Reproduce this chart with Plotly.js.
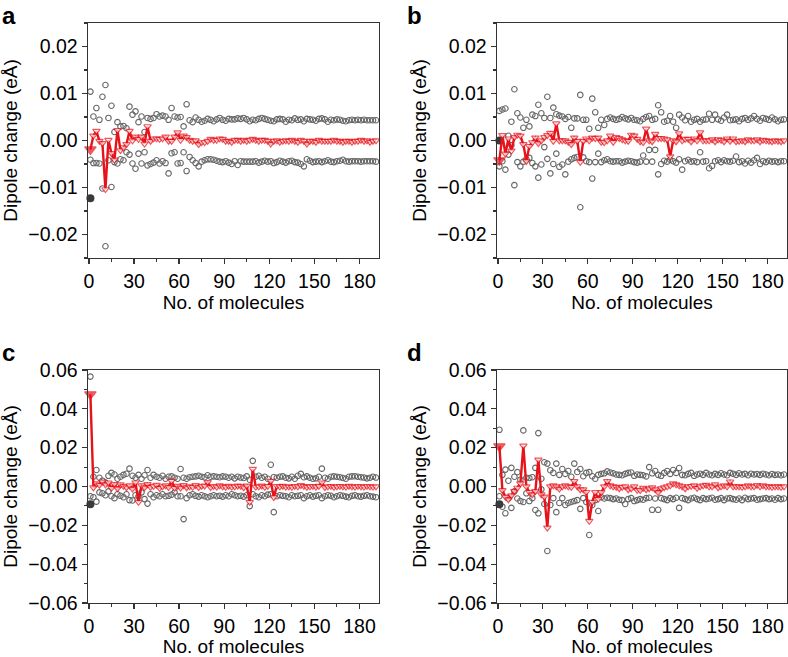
<!DOCTYPE html>
<html>
<head>
<meta charset="utf-8">
<script src="https://cdn.plot.ly/plotly-3.0.1.min.js"></script>
<style>html,body{margin:0;padding:0;background:#fff;}#chart{width:788px;height:657px;}</style>
</head>
<body>
<div id="chart"></div>
<script>
const molecules = [1,3,5,7,9,11,13,15,17,19,21,23,25,27,29,31,33,35,37,39,41,43,45,47,49,51,53,55,57,59,61,63,65,67,69,71,73,75,77,79,81,83,85,87,89,91,93,95,97,99,101,103,105,107,109,111,113,115,117,119,121,123,125,127,129,131,133,135,137,139,141,143,145,147,149,151,153,155,157,159,161,163,165,167,169,171,173,175,177,179,181,183,185,187,189,191];
const panelLabels = ["a","b","c","d"];
const xTitle = "No. of molecules";
const yTitle = "Dipole change (eÅ)";
const firstMolecule = [1];

// Panel a
const meanA = [-0.0019,0.0010,0.0020,-0.0001,-0.0006,-0.0104,0.0001,-0.0027,-0.0041,0.0022,
-0.0021,-0.0015,-0.0008,0.0020,0.0000,0.0008,0.0003,0.0008,-0.0007,0.0030,
-0.0001,0.0004,0.0004,0.0003,0.0004,0.0008,-0.0001,-0.0001,0.0008,0.0017,
0.0001,0.0010,0.0007,0.0001,-0.0001,0.0000,-0.0008,-0.0004,-0.0004,-0.0001,
0.0003,0.0001,0.0001,0.0004,0.0003,-0.0001,-0.0001,-0.0003,0.0001,0.0001,
-0.0001,0.0001,-0.0001,0.0001,0.0003,0.0001,-0.0001,0.0001,0.0001,-0.0001,
-0.0007,-0.0001,0.0000,-0.0003,-0.0001,0.0000,-0.0001,0.0001,-0.0001,-0.0003,
0.0001,-0.0001,-0.0007,-0.0001,-0.0001,-0.0003,0.0001,-0.0001,-0.0001,-0.0001,
-0.0001,0.0001,-0.0001,-0.0001,-0.0003,-0.0001,-0.0001,-0.0003,-0.0001,-0.0001,
0.0001,-0.0001,0.0000,-0.0003,-0.0001,0.0000];
const upperA = [0.0104,0.0051,0.0069,0.0044,0.0093,0.0118,0.0048,0.0074,0.0018,0.0039,
0.0030,0.0031,0.0026,0.0072,0.0055,0.0062,0.0039,0.0051,0.0018,0.0048,
0.0046,0.0048,0.0056,0.0051,0.0053,0.0051,0.0044,0.0069,0.0051,0.0049,
0.0050,0.0030,0.0077,0.0043,0.0039,0.0049,0.0044,0.0040,0.0042,0.0046,
0.0044,0.0041,0.0045,0.0048,0.0044,0.0042,0.0046,0.0045,0.0045,0.0047,
0.0046,0.0048,0.0045,0.0041,0.0044,0.0043,0.0046,0.0048,0.0046,0.0044,
0.0042,0.0041,0.0045,0.0046,0.0045,0.0040,0.0044,0.0043,0.0047,0.0044,
0.0045,0.0041,0.0046,0.0045,0.0044,0.0042,0.0046,0.0047,0.0045,0.0040,
0.0044,0.0043,0.0045,0.0044,0.0042,0.0041,0.0043,0.0044,0.0043,0.0044,
0.0043,0.0044,0.0043,0.0043,0.0043,0.0043];
const lowerA = [-0.0041,-0.0048,-0.0048,-0.0049,-0.0102,-0.0225,-0.0042,-0.0099,-0.0046,-0.0049,
-0.0040,-0.0042,-0.0025,-0.0030,-0.0049,-0.0060,-0.0028,-0.0049,-0.0025,-0.0053,
-0.0050,-0.0047,-0.0042,-0.0049,-0.0044,-0.0048,-0.0070,-0.0027,-0.0025,-0.0049,
-0.0048,-0.0025,-0.0065,-0.0035,-0.0042,-0.0048,-0.0055,-0.0045,-0.0042,-0.0040,
-0.0040,-0.0041,-0.0043,-0.0045,-0.0046,-0.0044,-0.0047,-0.0050,-0.0044,-0.0052,
-0.0044,-0.0045,-0.0045,-0.0045,-0.0045,-0.0044,-0.0047,-0.0045,-0.0043,-0.0045,
-0.0044,-0.0048,-0.0046,-0.0043,-0.0045,-0.0047,-0.0044,-0.0043,-0.0046,-0.0047,
-0.0050,-0.0055,-0.0040,-0.0043,-0.0046,-0.0045,-0.0044,-0.0046,-0.0044,-0.0042,
-0.0045,-0.0046,-0.0044,-0.0043,-0.0041,-0.0044,-0.0045,-0.0044,-0.0044,-0.0044,
-0.0045,-0.0044,-0.0044,-0.0044,-0.0044,-0.0045];
const dotA = [-0.0123];

// Panel b
const meanB = [-0.0042,0.0011,-0.0028,0.0004,-0.0022,0.0007,0.0012,0.0010,-0.0008,-0.0044,
-0.0012,-0.0004,0.0006,-0.0006,0.0000,0.0007,0.0011,0.0016,-0.0001,0.0036,
0.0000,0.0000,0.0000,-0.0003,-0.0008,0.0006,-0.0001,-0.0046,-0.0001,0.0004,
0.0000,0.0006,0.0005,0.0006,-0.0003,-0.0004,0.0000,0.0010,-0.0003,0.0007,
0.0005,0.0002,0.0000,-0.0001,0.0012,0.0010,0.0003,-0.0002,-0.0004,0.0025,
0.0000,-0.0002,0.0014,0.0005,0.0005,0.0004,0.0002,-0.0034,0.0000,-0.0002,
0.0015,0.0000,0.0003,0.0003,-0.0002,0.0004,0.0000,0.0017,0.0000,0.0000,
0.0000,0.0002,-0.0002,0.0002,0.0001,-0.0002,0.0004,-0.0001,0.0004,-0.0002,
-0.0001,0.0000,-0.0002,0.0002,0.0000,0.0000,0.0002,-0.0002,0.0001,0.0000,
-0.0001,-0.0002,0.0000,-0.0001,-0.0002,0.0000];
const upperB = [0.0063,0.0066,0.0068,0.0010,0.0040,0.0109,0.0058,0.0049,0.0027,0.0044,
0.0030,0.0055,0.0052,0.0076,0.0058,0.0048,0.0093,0.0048,0.0070,0.0056,
0.0053,0.0051,0.0046,0.0050,0.0027,0.0047,0.0047,0.0097,0.0044,0.0044,
0.0025,0.0089,0.0060,0.0027,0.0044,0.0033,0.0046,0.0049,0.0046,0.0044,
0.0046,0.0050,0.0047,0.0045,0.0048,0.0044,0.0043,0.0041,0.0046,0.0050,
0.0052,0.0044,0.0046,0.0075,0.0060,0.0040,0.0042,0.0052,0.0040,0.0027,
0.0055,0.0049,0.0043,0.0052,0.0040,0.0044,0.0046,0.0040,0.0044,0.0045,
0.0057,0.0044,0.0055,0.0045,0.0042,0.0049,0.0055,0.0043,0.0044,0.0045,
0.0041,0.0046,0.0048,0.0044,0.0047,0.0052,0.0046,0.0042,0.0048,0.0046,
0.0044,0.0049,0.0045,0.0041,0.0044,0.0045];
const lowerB = [-0.0055,-0.0044,-0.0062,-0.0030,-0.0010,-0.0095,-0.0046,-0.0055,-0.0045,-0.0040,
-0.0037,-0.0048,-0.0055,-0.0079,-0.0051,-0.0014,-0.0039,-0.0070,-0.0050,-0.0028,
-0.0056,-0.0051,-0.0072,-0.0045,-0.0040,-0.0037,-0.0035,-0.0142,-0.0036,-0.0044,
-0.0046,-0.0081,-0.0046,-0.0028,-0.0046,-0.0042,-0.0040,-0.0044,-0.0045,-0.0044,
-0.0044,-0.0047,-0.0045,-0.0043,-0.0044,-0.0046,-0.0047,-0.0045,-0.0032,-0.0045,
-0.0020,-0.0045,-0.0020,-0.0072,-0.0050,-0.0043,-0.0045,-0.0041,-0.0044,-0.0047,
-0.0040,-0.0062,-0.0044,-0.0041,-0.0045,-0.0044,-0.0046,-0.0025,-0.0045,-0.0044,
-0.0059,-0.0054,-0.0044,-0.0042,-0.0046,-0.0042,-0.0044,-0.0045,-0.0043,-0.0034,
-0.0046,-0.0044,-0.0049,-0.0043,-0.0047,-0.0042,-0.0037,-0.0050,-0.0044,-0.0046,
-0.0043,-0.0045,-0.0044,-0.0046,-0.0044,-0.0044];
const dotB = [0.0000];

// Panel c
const meanC = [0.0475,-0.0005,0.0015,0.0008,0.0025,0.0010,0.0020,-0.0008,0.0012,-0.0010,
0.0010,0.0002,-0.0005,0.0005,-0.0012,0.0020,-0.0080,0.0005,-0.0005,0.0012,
-0.0003,0.0002,0.0008,-0.0008,0.0000,0.0005,-0.0004,0.0028,-0.0008,0.0003,
-0.0006,0.0006,-0.0005,0.0000,-0.0003,0.0006,-0.0004,0.0002,0.0004,0.0022,
-0.0004,0.0002,-0.0002,0.0005,0.0000,-0.0003,0.0003,-0.0002,0.0000,0.0004,
0.0002,-0.0005,0.0004,-0.0080,0.0090,-0.0002,0.0000,0.0004,-0.0003,0.0002,
0.0028,-0.0055,0.0002,0.0000,0.0003,-0.0002,0.0000,-0.0003,0.0002,0.0000,
0.0006,0.0002,-0.0003,0.0000,0.0002,-0.0002,0.0003,0.0020,-0.0004,0.0000,
0.0002,-0.0003,0.0000,0.0002,0.0000,-0.0002,0.0003,0.0000,-0.0002,0.0002,
0.0000,-0.0002,0.0002,0.0000,-0.0002,0.0000];
const upperC = [0.0566,0.0050,0.0085,0.0045,0.0030,0.0020,0.0055,0.0070,0.0062,0.0040,
0.0050,0.0060,0.0066,0.0092,0.0055,0.0045,0.0060,0.0040,0.0058,0.0085,
0.0045,0.0060,0.0050,0.0045,0.0055,0.0040,0.0050,0.0052,0.0045,0.0040,
0.0090,0.0045,0.0040,0.0048,0.0050,0.0052,0.0055,0.0050,0.0048,0.0058,
0.0050,0.0052,0.0050,0.0048,0.0052,0.0050,0.0045,0.0050,0.0042,0.0050,
0.0046,0.0044,0.0052,0.0035,0.0132,0.0050,0.0055,0.0045,0.0050,0.0040,
0.0112,0.0048,0.0045,0.0050,0.0052,0.0045,0.0042,0.0050,0.0040,0.0055,
0.0065,0.0048,0.0052,0.0045,0.0040,0.0042,0.0050,0.0092,0.0045,0.0040,
0.0050,0.0052,0.0050,0.0048,0.0044,0.0040,0.0050,0.0052,0.0053,0.0050,
0.0048,0.0046,0.0042,0.0045,0.0050,0.0046];
const lowerC = [-0.0050,-0.0055,-0.0078,-0.0030,-0.0035,-0.0045,-0.0025,-0.0050,-0.0060,-0.0040,
-0.0048,-0.0055,-0.0040,-0.0070,-0.0072,-0.0045,-0.0050,-0.0030,-0.0065,-0.0088,
-0.0040,-0.0055,-0.0045,-0.0050,-0.0040,-0.0050,-0.0048,-0.0042,-0.0030,-0.0050,
-0.0050,-0.0168,-0.0060,-0.0045,-0.0040,-0.0048,-0.0052,-0.0045,-0.0050,-0.0055,
-0.0050,-0.0045,-0.0050,-0.0048,-0.0052,-0.0045,-0.0050,-0.0040,-0.0045,-0.0050,
-0.0048,-0.0052,-0.0045,-0.0101,-0.0040,-0.0050,-0.0055,-0.0045,-0.0050,-0.0042,
-0.0040,-0.0132,-0.0050,-0.0045,-0.0048,-0.0050,-0.0055,-0.0045,-0.0050,-0.0048,
-0.0045,-0.0060,-0.0050,-0.0045,-0.0052,-0.0048,-0.0045,-0.0060,-0.0050,-0.0045,
-0.0048,-0.0055,-0.0050,-0.0045,-0.0048,-0.0052,-0.0055,-0.0048,-0.0045,-0.0050,
-0.0052,-0.0048,-0.0045,-0.0050,-0.0052,-0.0055];
const dotC = [-0.0092];

// Panel d
const meanD = [0.0207,-0.0019,-0.0053,-0.0067,-0.0046,-0.0024,-0.0007,0.0015,0.0210,0.0000,
-0.0029,-0.0041,-0.0024,0.0138,-0.0041,-0.0053,-0.0212,0.0000,0.0005,0.0000,
-0.0012,0.0000,0.0005,0.0000,-0.0003,0.0027,0.0000,-0.0015,-0.0015,-0.0029,
-0.0178,-0.0080,-0.0030,-0.0065,-0.0030,0.0000,0.0027,0.0005,0.0000,-0.0003,
-0.0010,-0.0003,0.0000,-0.0015,-0.0010,0.0000,-0.0018,-0.0020,-0.0008,-0.0015,
-0.0010,-0.0005,-0.0015,-0.0030,-0.0010,-0.0005,0.0000,0.0005,0.0015,0.0010,
0.0005,0.0000,-0.0010,0.0000,0.0002,0.0005,-0.0008,0.0000,0.0005,0.0008,
0.0000,0.0000,0.0010,-0.0005,0.0000,0.0005,0.0000,0.0025,0.0000,0.0000,
0.0000,-0.0003,0.0000,0.0005,0.0000,0.0000,0.0007,0.0000,0.0005,0.0000,
0.0000,-0.0003,0.0000,0.0000,-0.0003,0.0000];
const upperD = [0.0292,0.0060,0.0087,0.0030,0.0096,0.0050,0.0074,0.0035,0.0289,0.0045,
0.0044,0.0048,0.0096,0.0275,0.0040,0.0125,0.0118,0.0084,0.0070,0.0118,
0.0060,0.0090,0.0065,0.0080,0.0050,0.0118,0.0075,0.0090,0.0053,0.0070,
0.0074,0.0053,0.0040,0.0060,0.0065,0.0068,0.0078,0.0072,0.0068,0.0062,
0.0060,0.0058,0.0065,0.0070,0.0072,0.0055,0.0062,0.0060,0.0058,0.0052,
0.0100,0.0068,0.0080,0.0060,0.0055,0.0070,0.0080,0.0065,0.0085,0.0070,
0.0095,0.0060,0.0058,0.0065,0.0070,0.0055,0.0062,0.0066,0.0060,0.0070,
0.0062,0.0058,0.0065,0.0060,0.0068,0.0062,0.0058,0.0070,0.0066,0.0060,
0.0068,0.0062,0.0065,0.0058,0.0066,0.0062,0.0064,0.0060,0.0066,0.0062,
0.0058,0.0064,0.0060,0.0062,0.0058,0.0062];
const lowerD = [-0.0050,-0.0104,-0.0138,-0.0060,-0.0110,-0.0025,-0.0062,-0.0075,-0.0080,-0.0035,
-0.0075,-0.0060,-0.0121,-0.0138,-0.0015,-0.0090,-0.0332,-0.0095,-0.0060,-0.0132,
-0.0085,-0.0060,-0.0095,-0.0085,-0.0080,-0.0075,-0.0070,-0.0115,-0.0060,-0.0080,
-0.0250,-0.0095,-0.0070,-0.0126,-0.0055,-0.0062,-0.0058,-0.0060,-0.0065,-0.0062,
-0.0068,-0.0070,-0.0090,-0.0065,-0.0060,-0.0075,-0.0070,-0.0065,-0.0068,-0.0060,
-0.0058,-0.0120,-0.0062,-0.0120,-0.0060,-0.0065,-0.0070,-0.0060,-0.0065,-0.0058,
-0.0110,-0.0060,-0.0065,-0.0070,-0.0062,-0.0058,-0.0065,-0.0070,-0.0060,-0.0065,
-0.0062,-0.0058,-0.0068,-0.0065,-0.0060,-0.0070,-0.0062,-0.0060,-0.0065,-0.0068,
-0.0062,-0.0070,-0.0058,-0.0065,-0.0062,-0.0060,-0.0068,-0.0065,-0.0062,-0.0060,
-0.0065,-0.0062,-0.0068,-0.0060,-0.0065,-0.0062];
const dotD = [-0.0092];

const RED = '#e8121a';
const GRAY = '#666666';
const panels = [
  {mean: meanA, up: upperA, lo: lowerA, dot: dotA},
  {mean: meanB, up: upperB, lo: lowerB, dot: dotB},
  {mean: meanC, up: upperC, lo: lowerC, dot: dotC},
  {mean: meanD, up: upperD, lo: lowerD, dot: dotD}
];
const traces = [];
panels.forEach((p, k) => {
  const xa = k === 0 ? 'x' : 'x' + (k + 1);
  const ya = k === 0 ? 'y' : 'y' + (k + 1);
  const grayMarker = {symbol: 'circle-open', size: 5.5, color: GRAY, line: {width: 1.1, color: GRAY}};
  traces.push({x: molecules, y: p.up, xaxis: xa, yaxis: ya, mode: 'markers', marker: grayMarker, showlegend: false, cliponaxis: false});
  traces.push({x: molecules, y: p.lo, xaxis: xa, yaxis: ya, mode: 'markers', marker: grayMarker, showlegend: false, cliponaxis: false});
  traces.push({x: firstMolecule, y: p.dot, xaxis: xa, yaxis: ya, mode: 'markers',
    marker: {symbol: 'circle', size: 8, color: '#3a3a3a'}, showlegend: false, cliponaxis: false});
  traces.push({x: molecules, y: p.mean, xaxis: xa, yaxis: ya, mode: 'lines+markers',
    line: {color: RED, width: 2.4},
    marker: {symbol: 'triangle-down', size: molecules.map((_, i) => i === 0 ? 10 : 6.5),
      color: molecules.map((_, i) => i === 0 ? RED : '#ffffff'),
      line: {color: RED, width: 1.2}},
    showlegend: false, cliponaxis: false});
});

const FONT = 'Liberation Sans, Arial, Helvetica, sans-serif';
const FS_TICK = 19.5, FS_TITLE = 19;
function xAxis(dom, anchor) {
  return {domain: dom, anchor: anchor, range: [-0.6, 193], tickmode: 'linear', tick0: 0, dtick: 30,
    ticks: 'outside', ticklen: 5, tickwidth: 1.3, tickcolor: '#333',
    minor: {ticks: 'outside', ticklen: 3, tickwidth: 1.1, tickcolor: '#333', dtick: 15, tick0: 0, showgrid: false},
    showline: true, linecolor: '#333', linewidth: 1.4, mirror: true, showgrid: false, zeroline: false,
    tickfont: {family: FONT, size: FS_TICK, color: '#000'},
    title: {text: xTitle, font: {family: FONT, size: FS_TITLE, color: '#000'}, standoff: 4}};
}
function yAxis(dom, anchor, lim, dt) {
  return {domain: dom, anchor: anchor, range: [-lim, lim], tickmode: 'linear', tick0: 0, dtick: dt,
    tickformat: '.2f',
    ticks: 'outside', ticklen: 5, tickwidth: 1.3, tickcolor: '#333',
    minor: {ticks: 'outside', ticklen: 3, tickwidth: 1.1, tickcolor: '#333', dtick: dt / 2, tick0: 0, showgrid: false},
    showline: true, linecolor: '#333', linewidth: 1.4, mirror: true, showgrid: false, zeroline: false,
    tickfont: {family: FONT, size: FS_TICK, color: '#000'},
    title: {text: yTitle, font: {family: FONT, size: FS_TITLE, color: '#000'}, standoff: 5}};
}
const W = 788, H = 657;
const colL = [88 / W, 379 / W], colR = [497 / W, 787 / W];
const rowT = [1 - 258 / H, 1 - 23 / H], rowB = [1 - 603 / H, 1 - 370 / H];
const layout = {
  width: W, height: H, margin: {l: 0, r: 0, t: 0, b: 0}, paper_bgcolor: '#fff', plot_bgcolor: '#fff',
  font: {family: FONT, color: '#000'},
  xaxis: xAxis(colL, 'y'), yaxis: yAxis(rowT, 'x', 0.025, 0.01),
  xaxis2: xAxis(colR, 'y2'), yaxis2: yAxis(rowT, 'x2', 0.025, 0.01),
  xaxis3: xAxis(colL, 'y3'), yaxis3: yAxis(rowB, 'x3', 0.06, 0.02),
  xaxis4: xAxis(colR, 'y4'), yaxis4: yAxis(rowB, 'x4', 0.06, 0.02),
  annotations: [
    {text: '<b>' + panelLabels[0] + '</b>', x: 0, y: 1},
    {text: '<b>' + panelLabels[1] + '</b>', x: 405 / W, y: 1},
    {text: '<b>' + panelLabels[2] + '</b>', x: 0, y: 1 - 337 / H},
    {text: '<b>' + panelLabels[3] + '</b>', x: 405 / W, y: 1 - 337 / H}
  ].map(a => Object.assign(a, {xref: 'paper', yref: 'paper', xanchor: 'left', yanchor: 'top', showarrow: false,
    font: {family: FONT, size: 24, color: '#000'}}))
};
Plotly.newPlot('chart', traces, layout, {displayModeBar: false, staticPlot: true});
</script>
</body>
</html>
